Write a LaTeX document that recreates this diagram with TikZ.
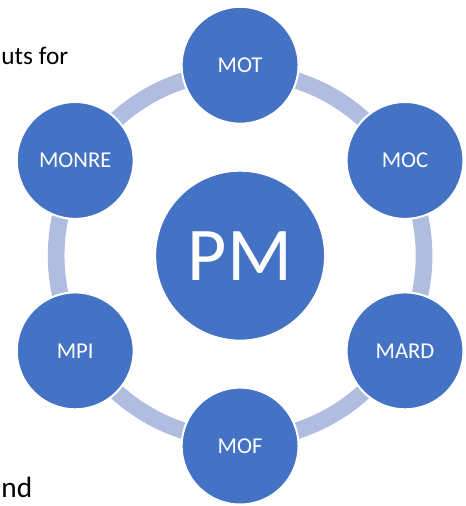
\documentclass[tikz,border=0pt]{standalone}
\usepackage{fontspec}
\setmainfont{Carlito}
\usepackage{xcolor}
\usepackage{tikz}

\begin{document}
\begin{tikzpicture}[
  ministero/.style={circle, fill=colNodo, draw=white, line width=1.5pt,
    minimum size=3.08cm, inner sep=0pt, text=white,
    font=\fontsize{17}{20}\selectfont},
  centro/.style={ministero, minimum size=4.48cm,
    font=\fontsize{57}{62}\selectfont},
  anello/.style={draw=colAnello, line width=12.5pt}
]

% Colori
\definecolor{colNodo}{HTML}{4472C4}
\definecolor{colAnello}{HTML}{B0BDE0}

% Raggi: posizione dei cerchi e anello
\def\r{5.02}
\def\ra{4.85}

\useasboundingbox (-6.33,-6.60) rectangle (5.93,6.74);

% Testo della pagina a sinistra
\node[anchor=base west, inner sep=0pt, font=\fontsize{19}{23}\selectfont] (testoA) at (-6.30,5.05) {uts for};
\node[anchor=base west, inner sep=0pt, font=\fontsize{22}{26}\selectfont] (testoB) at (-6.30,-6.37) {nd};

% Anello
\coordinate (hub) at (0,0);
\draw[anello] (hub) circle (\ra);

% Ministeri attorno
\node[ministero] (MOT) at (90:\r) {MOT};
\node[ministero] (MOC) at (30:\r) {MOC};
\node[ministero] (MARD) at (-30:\r) {MARD};
\node[ministero] (MOF) at (-90:\r) {MOF};
\node[ministero] (MPI) at (-150:\r) {MPI};
\node[ministero] (MONRE) at (150:\r) {MONRE};

% Centro
\node[centro] (PM) at (hub) {PM};

\end{tikzpicture}
\end{document}
